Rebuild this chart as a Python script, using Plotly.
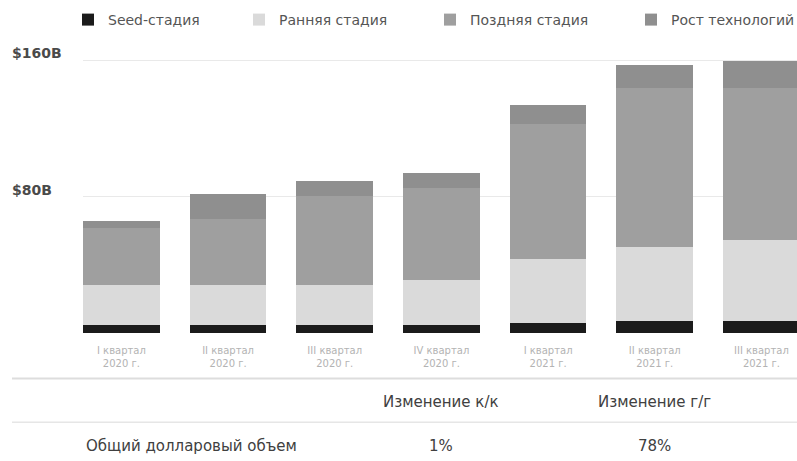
import plotly.graph_objects as go

quarters = ["I квартал<br>2020 г.", "II квартал<br>2020 г.", "III квартал<br>2020 г.",
            "IV квартал<br>2020 г.", "I квартал<br>2021 г.", "II квартал<br>2021 г.",
            "III квартал<br>2021 г."]
seed = [4.5, 4.9, 4.9, 4.9, 5.9, 6.9, 6.9]
early = [23.4, 23.2, 23.2, 26.5, 37.3, 43.7, 47.6]
late = [33.5, 38.6, 52.5, 53.5, 79.6, 93.5, 89.6]
growth = [4.5, 14.7, 8.6, 8.9, 11.1, 13.4, 15.3]
series_names = ["Seed-стадия", "Ранняя стадия", "Поздняя стадия", "Рост технологий"]
series_colors = ["#1b1b1b", "#dadada", "#9f9f9f", "#8f8f8f"]
ytick_vals = [80, 160]
ytick_text = ["$80B", "$160B"]
table_headers = ["Изменение к/к", "Изменение г/г"]
table_row_label = "Общий долларовый объем"
table_values = ["1%", "78%"]
table_cols = [3, 5]  # aligned under IV кв. 2020 and II кв. 2021

W, H = 797, 461
L, R = 83, 0
T, B = 57.3, 128.3
plot_h = H - T - B

FONT = "DejaVu Sans"

fig = go.Figure()
legend_px = [82, 253, 444, 645]
legend_keys = ["legend", "legend2", "legend3", "legend4"]
for vals, name, col, lk in zip([seed, early, late, growth], series_names, series_colors, legend_keys):
    fig.add_trace(go.Bar(x=list(range(len(quarters))), y=vals, name=name,
                         marker=dict(color=col, line=dict(width=0)),
                         width=0.72, legend=lk, hoverinfo="skip"))

layout_legends = {}
for lk, px in zip(legend_keys, legend_px):
    layout_legends[lk] = dict(
        xref="container", yref="container",
        x=(px - 14) / W, xanchor="left",
        y=1 - 20 / H, yanchor="middle",
        orientation="h", bgcolor="rgba(0,0,0,0)", borderwidth=0,
        font=dict(family=FONT, size=14, color="#555555"),
    )

fig.update_layout(
    width=W, height=H,
    margin=dict(l=L, r=R, t=T, b=B, pad=0),
    paper_bgcolor="white", plot_bgcolor="white",
    barmode="stack",
    showlegend=True,
    **layout_legends,
)

fig.update_xaxes(
    range=[-0.36, -0.36 + (W - L - R) / 106.67],
    tickvals=list(range(len(quarters))), ticktext=quarters,
    tickfont=dict(family=FONT, size=10, color="#b3b3b3"),
    showgrid=False, zeroline=False, showline=False,
    ticks="", ticklabelstandoff=10,
)
fig.update_yaxes(
    range=[0, 162],
    tickvals=[0] + ytick_vals, showticklabels=False,
    showgrid=True, gridcolor="#e9e9e9", gridwidth=1,
    zeroline=False, showline=False,
)

# y labels above the gridlines
for v, t in zip(ytick_vals, ytick_text):
    fig.add_annotation(x=(10 - L) / (W - L - R), xref="paper", xanchor="left",
                       y=v, yref="y", yanchor="middle", yshift=7,
                       text=t, showarrow=False,
                       font=dict(family=FONT, size=14, color="#4a4a4a", weight="bold"))

def py(pix):
    return (H - B - pix) / plot_h

# table separator lines
for ypix, w, c in [(378, 2, "#dddddd"), (421.7, 1.5, "#e6e6e6")]:
    fig.add_shape(type="line", xref="paper", yref="paper",
                  x0=(12 - L) / (W - L - R), x1=1.0, y0=py(ypix), y1=py(ypix),
                  line=dict(color=c, width=w))

for xc, hdr, val in zip(table_cols, table_headers, table_values):
    fig.add_annotation(x=xc, xref="x", y=py(402), yref="paper", yanchor="middle",
                       text=hdr, showarrow=False,
                       font=dict(family=FONT, size=15, color="#404040"))
    fig.add_annotation(x=xc, xref="x", y=py(445), yref="paper", yanchor="middle",
                       text=val, showarrow=False,
                       font=dict(family=FONT, size=15, color="#404040"))
fig.add_annotation(x=(84 - L) / (W - L - R), xref="paper", xanchor="left",
                   y=py(445), yref="paper", yanchor="middle",
                   text=table_row_label, showarrow=False,
                   font=dict(family=FONT, size=15, color="#404040"))

fig.write_html("out.html")
